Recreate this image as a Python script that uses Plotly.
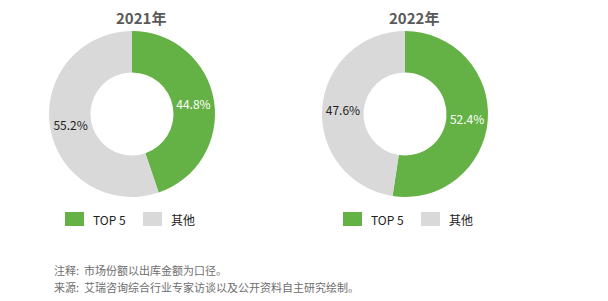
import plotly.graph_objects as go

categories = ["TOP 5", "其他"]
values_2021 = [44.8, 55.2]
values_2022 = [52.4, 47.6]
years = ["2021年", "2022年"]
colors = ["#64B245", "#D9D9D9"]
notes = ["注释:  市场份额以出库金额为口径。", "来源:  艾瑞咨询综合行业专家访谈以及公开资料自主研究绘制。"]

W, H = 608, 301
FONT = "Noto Sans CJK SC"

fig = go.Figure()
pies = [(values_2021, 49, 215), (values_2022, 322, 488)]
for vals, x0, x1 in pies:
    fig.add_trace(go.Pie(
        labels=categories, values=vals, hole=0.5, sort=False, direction="clockwise",
        rotation=0, marker=dict(colors=colors, line=dict(width=0)),
        texttemplate="%{value:.1f}%", textposition="inside",
        insidetextorientation="horizontal",
        textfont=dict(family=FONT, size=12, color=["#FFFFFF", "#222222"]),
        domain=dict(x=[x0 / W, x1 / W], y=[(H - 197) / H, (H - 31) / H]),
        showlegend=False, hoverinfo="label+percent",
    ))

annotations = []
shapes = []
for yr, cx, lx in [(years[0], 141, 65), (years[1], 414, 343)]:
    annotations.append(dict(text=f"<b>{yr}</b>", x=cx / W, y=1 - 17 / H, xref="paper", yref="paper",
                            showarrow=False, font=dict(family=FONT, size=15, color="#595959"),
                            xanchor="center", yanchor="middle"))
    for i, cat in enumerate(categories):
        bx = lx + i * 78
        shapes.append(dict(type="rect", xref="paper", yref="paper",
                           x0=bx / W, x1=(bx + 19) / W, y0=1 - 226 / H, y1=1 - 212 / H,
                           fillcolor=colors[i], line=dict(width=0)))
        annotations.append(dict(text=cat, x=(bx + 26) / W, y=1 - 219 / H, xref="paper", yref="paper",
                                showarrow=False, xanchor="left", yanchor="middle",
                                font=dict(family=FONT, size=12, color="#222222")))

for i, t in enumerate(notes):
    annotations.append(dict(text=t, x=52 / W, y=1 - (270 + 17 * i) / H, xref="paper", yref="paper",
                            showarrow=False, xanchor="left", yanchor="middle",
                            font=dict(family=FONT, size=11, color="#6E6E6E")))

fig.update_layout(width=W, height=H, margin=dict(l=0, r=0, t=0, b=0),
                  paper_bgcolor="white", plot_bgcolor="white",
                  annotations=annotations, shapes=shapes)
fig.write_html("out.html")
